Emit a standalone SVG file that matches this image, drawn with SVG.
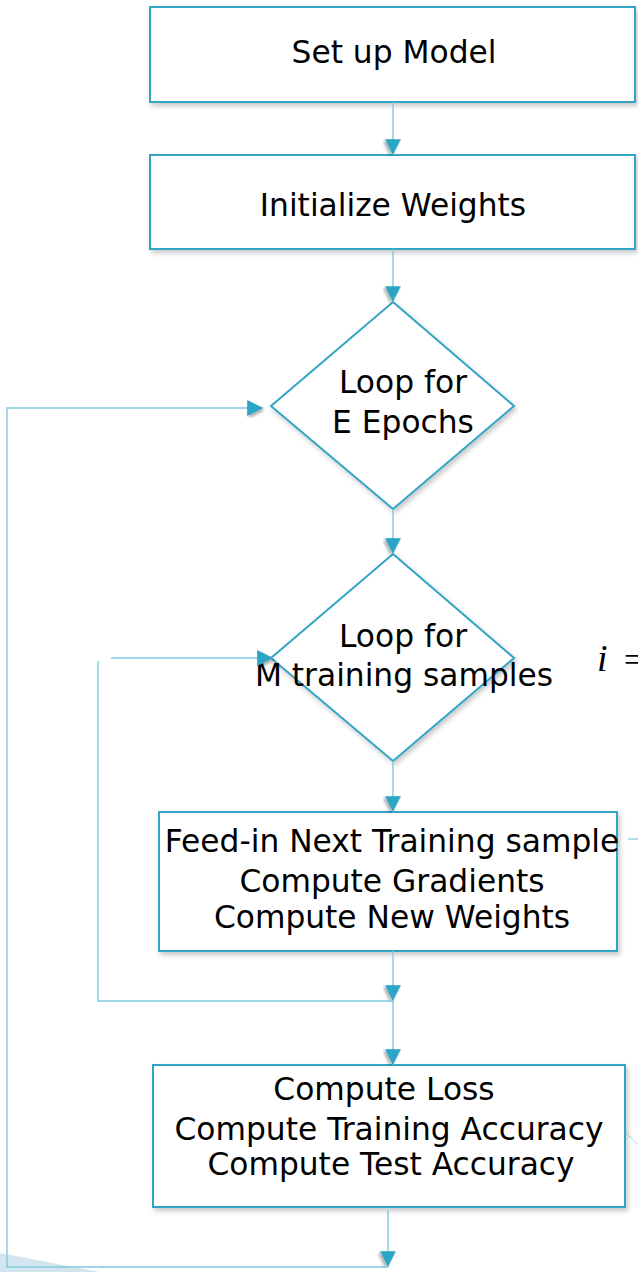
<svg xmlns="http://www.w3.org/2000/svg" width="638" height="1272" viewBox="0 0 638 1272">
  <defs>
    <filter id="shadow" x="-10%" y="-10%" width="130%" height="130%">
      <feDropShadow dx="2" dy="3" stdDeviation="2.5" flood-color="#000" flood-opacity="0.22"/>
    </filter>
    <filter id="headShadow" x="-50%" y="-50%" width="200%" height="200%">
      <feDropShadow dx="1.5" dy="2" stdDeviation="1.5" flood-color="#000" flood-opacity="0.35"/>
    </filter>
    <marker id="arrow" markerUnits="userSpaceOnUse" markerWidth="20" markerHeight="20" viewBox="-2 -2 19 19" refX="15" refY="7.5" orient="auto">
      <path d="M0,0 L15,7.5 L0,15 Z" fill="#2ba5c4" filter="url(#headShadow)"/>
    </marker>
  </defs>
  <style>
    .box { fill: #ffffff; stroke: #33a4c4; stroke-width: 2; filter: url(#shadow); }
    .label { font-family: "DejaVu Sans", "Liberation Sans", sans-serif; font-size: 31.3px; fill: #000000; text-anchor: middle; }
    .conn { fill: none; stroke: #80cadf; stroke-width: 1.4; }
    .arrowed { marker-end: url(#arrow); }
  </style>

  <rect width="638" height="1272" fill="#ffffff"/>

  <!-- slide corner decoration -->
  <polygon points="0,1253 100,1272 0,1272" fill="#d3e6ef"/>

  <!-- side fragments -->
  <path d="M592,1097 L638,1145" stroke="#7fc9dc" stroke-width="1" stroke-dasharray="2 1" fill="none"/>
  <path d="M628,839 H638" stroke="#7fc9dc" stroke-width="1.2" fill="none"/>
  <text x="597" y="671" font-family="Liberation Serif, serif" font-size="38" font-style="italic" fill="#000">i</text>
  <text x="624" y="671" font-family="Liberation Serif, serif" font-size="34" fill="#000">=</text>

  <g id="setup">
    <rect class="box" x="150" y="7" width="485" height="95"/>
    <text class="label" x="394" y="63">Set up Model</text>
  </g>

  <g id="init">
    <rect class="box" x="150" y="155" width="485" height="94"/>
    <text class="label" x="393" y="216">Initialize Weights</text>
  </g>

  <g id="epochs">
    <polygon class="box" points="393,302 514,406 393,509 271,406"/>
    <text class="label" x="403" y="393">Loop for</text>
    <text class="label" x="403" y="433">E Epochs</text>
  </g>

  <g id="samples">
    <polygon class="box" points="393,554 514,658 393,761 271,658"/>
    <text class="label" x="403" y="647">Loop for</text>
    <text class="label" x="404" y="686">M training samples</text>
  </g>

  <g id="update">
    <rect class="box" x="159" y="812" width="458" height="139"/>
    <text class="label" x="392" y="852">Feed-in Next Training sample</text>
    <text class="label" x="392" y="892">Compute Gradients</text>
    <text class="label" x="392" y="928">Compute New Weights</text>
  </g>

  <g id="metrics">
    <rect class="box" x="153" y="1065" width="472" height="142"/>
    <text class="label" x="384" y="1100">Compute Loss</text>
    <text class="label" x="389" y="1140">Compute Training Accuracy</text>
    <text class="label" x="391" y="1175">Compute Test Accuracy</text>
  </g>

  <g id="connectors">
    <path class="conn arrowed" d="M393,102 V155"/>
    <path class="conn arrowed" d="M393,249 V302"/>
    <path class="conn arrowed" d="M393,509 V554"/>
    <path class="conn arrowed" d="M393,761 V812"/>
    <path class="conn arrowed" d="M393,951 V1001"/>
    <path class="conn arrowed" d="M393,1001 V1065"/>
    <!-- inner loop back to the samples decision -->
    <path class="conn" d="M393,1001 H98 V661"/>
    <path class="conn arrowed" d="M111,658 H273"/>
    <!-- outer loop back to the epochs decision -->
    <path class="conn arrowed" d="M388,1210 V1267"/>
    <path class="conn arrowed" d="M388,1267 H7 V408 H263"/>
  </g>
</svg>
